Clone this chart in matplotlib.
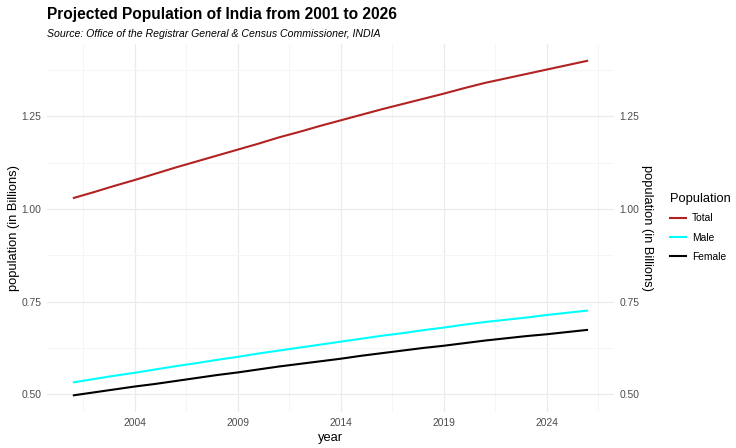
import matplotlib
matplotlib.use('Agg')
import matplotlib.pyplot as plt
from matplotlib.lines import Line2D
from matplotlib.ticker import FixedLocator

plt.rcParams['font.family'] = ['Liberation Sans', 'DejaVu Sans']

# Projected population (billions)
years = list(range(2001, 2027))
total = [1.029, 1.045, 1.062, 1.078, 1.095, 1.112, 1.128, 1.144, 1.160, 1.176,
         1.193, 1.208, 1.224, 1.239, 1.254, 1.269, 1.283, 1.297, 1.311, 1.326,
         1.340, 1.352, 1.364, 1.376, 1.388, 1.400]
male = [0.532, 0.541, 0.550, 0.558, 0.567, 0.576, 0.584, 0.593, 0.601, 0.610,
        0.618, 0.626, 0.634, 0.642, 0.650, 0.658, 0.665, 0.673, 0.680, 0.688,
        0.695, 0.701, 0.707, 0.714, 0.720, 0.726]
female = [0.497, 0.505, 0.513, 0.521, 0.528, 0.536, 0.544, 0.552, 0.559, 0.567,
          0.575, 0.582, 0.589, 0.596, 0.604, 0.611, 0.618, 0.625, 0.631, 0.638,
          0.645, 0.651, 0.657, 0.662, 0.668, 0.674]
series_names = ['Total', 'Male', 'Female']
series_colors = ['#B22222', '#00FFFF', '#000000']
x_ticks = [2004, 2009, 2014, 2019, 2024]
y_ticks = [0.50, 0.75, 1.00, 1.25]

fig = plt.figure(figsize=(7.36, 4.48), dpi=100)
ax = fig.add_axes([0.064, 0.080, 0.770, 0.822])

for vals, name, col in zip([total, male, female], series_names, series_colors):
    ax.plot(years, vals, color=col, lw=1.5, label=name, solid_capstyle='butt')

# ggplot-like expansion
xmin, xmax = min(years), max(years)
dx = (xmax - xmin) * 0.05
ax.set_xlim(xmin - dx, xmax + dx)
ymin, ymax = min(female), max(total)
dy = (ymax - ymin) * 0.05
ax.set_ylim(ymin - dy, ymax + dy)

ax.xaxis.set_major_locator(FixedLocator(x_ticks))
ax.xaxis.set_minor_locator(FixedLocator([t - 2.5 for t in x_ticks] + [x_ticks[-1] + 2.5]))
ax.yaxis.set_major_locator(FixedLocator(y_ticks))
ax.yaxis.set_minor_locator(FixedLocator([t + 0.125 for t in y_ticks]))
ax.set_yticklabels(['%.2f' % t for t in y_ticks])

ax.grid(which='major', color='#EBEBEB', lw=0.9)
ax.grid(which='minor', color='#F4F4F4', lw=0.6)
ax.set_axisbelow(True)
for s in ax.spines.values():
    s.set_visible(False)
ax.tick_params(which='both', length=0, labelsize=7.4, labelcolor='#4D4D4D', pad=4)

ax.set_xlabel('year', fontsize=9.3, labelpad=3)
ax.set_ylabel('population (in Billions)', fontsize=9.3, labelpad=1)

ax2 = ax.twinx()
ax2.set_ylim(ax.get_ylim())
ax2.yaxis.set_major_locator(FixedLocator(y_ticks))
ax2.set_yticklabels(['%.2f' % t for t in y_ticks])
for s in ax2.spines.values():
    s.set_visible(False)
ax2.tick_params(length=0, labelsize=7.4, labelcolor='#4D4D4D', pad=4)
ax2.set_ylabel('population (in Billions)', fontsize=9.3, rotation=-90, labelpad=10)

handles = [Line2D([0], [0], color=c, lw=1.5) for c in series_colors]
leg = fig.legend(handles, series_names, title='Population', loc='upper left',
                 bbox_to_anchor=(0.898, 0.590), frameon=False, fontsize=7.4,
                 title_fontsize=9.3, handlelength=1.5, handletextpad=0.6,
                 labelspacing=0.9)
leg._legend_box.align = 'left'
leg._legend_box.sep = 6

fig.text(0.064, 0.967, 'Projected Population of India from 2001 to 2026',
         fontsize=11.2, fontweight='bold', va='center', ha='left')
fig.text(0.064, 0.925, 'Source: Office of the Registrar General & Census Commissioner, INDIA',
         fontsize=7.6, style='italic', va='center', ha='left')

fig.savefig('out.png', dpi=100, facecolor='white')
